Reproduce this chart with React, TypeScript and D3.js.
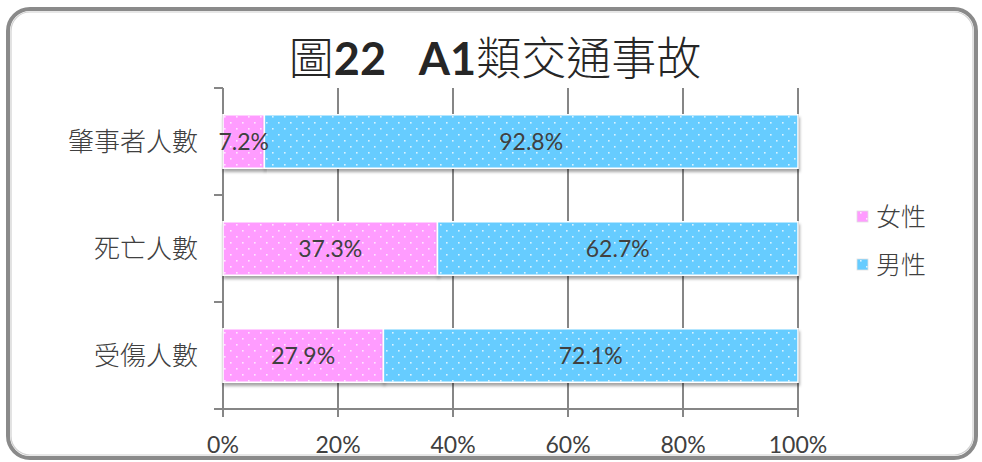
import React from "react";
import * as d3 from "d3";

const categories = ["肇事者人數", "死亡人數", "受傷人數"];
const female = [7.2, 37.3, 27.9];
const male = [92.8, 62.7, 72.1];
const seriesNames = ["女性", "男性"];
const xTicks = [0, 20, 40, 60, 80, 100];
const title1 = "圖";
const title2 = "22\u00a0\u00a0\u00a0A1";
const title3 = "類交通事故";

const W = 982;
const H = 462;
const CJK = "'Noto Sans CJK TC', 'Noto Sans CJK SC', sans-serif";
const LAT = "Lato, 'Open Sans', sans-serif";
const PINK = "#ff9cff";
const BLUE = "#66ccff";
const TXT = "#404040";

export default function App() {
  const x = d3.scaleLinear().domain([0, 100]).range([223, 798]);
  const y = d3.scaleBand().domain(categories).range([88, 409]).paddingInner(0.5).paddingOuter(0.25);
  const bh = y.bandwidth();
  const band = d3.scaleBand().domain(categories).range([88, 409]);

  return (
    <svg width={W} height={H} style={{ position: "absolute", left: 0, top: 0, background: "#fff" }}>
      <defs>
        <pattern id="dotsP" width="12" height="12" patternUnits="userSpaceOnUse">
          <rect width="12" height="12" fill={PINK} />
          <rect x="2" y="2" width="1.6" height="1.6" fill="#fff" opacity="0.75" />
          <rect x="8" y="8" width="1.6" height="1.6" fill="#fff" opacity="0.75" />
        </pattern>
        <pattern id="dotsB" width="12" height="12" patternUnits="userSpaceOnUse">
          <rect width="12" height="12" fill={BLUE} />
          <rect x="2" y="2" width="1.6" height="1.6" fill="#fff" opacity="0.75" />
          <rect x="8" y="8" width="1.6" height="1.6" fill="#fff" opacity="0.75" />
        </pattern>
        <filter id="shadow" x="-5%" y="-20%" width="110%" height="160%">
          <feDropShadow dx="1" dy="3" stdDeviation="1.8" floodColor="#000" floodOpacity="0.35" />
        </filter>
      </defs>

      {/* frame */}
      <rect x={8} y={9} width={968} height={449} rx={22} ry={22} fill="#fff" stroke="#8a8a8a" strokeWidth={4} />
      <rect x={11} y={12} width={962} height={443} rx={19} ry={19} fill="none" stroke="#d0d0d0" strokeWidth={1.2} />

      {/* title */}
      <text x={495} y={75} textAnchor="middle" fontSize={45} fill="#262626">
        <tspan fontFamily={CJK} fontWeight={300}>{title1}</tspan>
        <tspan fontFamily={LAT} fontWeight={700}>{title2}</tspan>
        <tspan fontFamily={CJK} fontWeight={300}>{title3}</tspan>
      </text>

      {/* gridlines */}
      {xTicks.slice(1).map((t) => (
        <line key={t} x1={x(t)} x2={x(t)} y1={88} y2={417} stroke="#868686" strokeWidth={2} />
      ))}
      {/* x axis line */}
      <line x1={214} x2={798} y1={409} y2={409} stroke="#868686" strokeWidth={2} />
      <line x1={x(0)} x2={x(0)} y1={409} y2={417} stroke="#868686" strokeWidth={2} />
      {/* y axis */}
      <line x1={223} x2={223} y1={88} y2={409} stroke="#868686" strokeWidth={2} />
      {categories.map((c) => (
        <line key={c} x1={214} x2={223} y1={band(c)!} y2={band(c)!} stroke="#868686" strokeWidth={2} />
      ))}

      {/* bars */}
      {categories.map((c, i) => {
        const y0 = y(c)!;
        return (
          <g key={c}>
            <rect x={x(0)} y={y0} width={x(female[i]) - x(0)} height={bh} fill="url(#dotsP)" stroke="#fff" strokeWidth={1.5} filter="url(#shadow)" />
            <rect x={x(female[i])} y={y0} width={x(100) - x(female[i])} height={bh} fill="url(#dotsB)" stroke="#fff" strokeWidth={1.5} filter="url(#shadow)" />
          </g>
        );
      })}

      {/* bar labels */}
      {categories.map((c, i) => {
        const cy = y(c)! + bh / 2 + 8;
        return (
          <g key={c} fontFamily={LAT} fontSize={23} fill={TXT} textAnchor="middle">
            <text x={(x(0) + x(female[i])) / 2} y={cy}>{female[i].toFixed(1)}%</text>
            <text x={(x(female[i]) + x(100)) / 2} y={cy}>{male[i].toFixed(1)}%</text>
          </g>
        );
      })}

      {/* category labels */}
      {categories.map((c) => (
        <text key={c} x={198} y={y(c)! + bh / 2 + 9} textAnchor="end" fontFamily={CJK} fontWeight={300} fontSize={26} fill={TXT}>
          {c}
        </text>
      ))}

      {/* x tick labels */}
      {xTicks.map((t) => (
        <text key={t} x={x(t)} y={453} textAnchor="middle" fontFamily={LAT} fontSize={23} fill={TXT}>
          {t}%
        </text>
      ))}

      {/* legend */}
      {seriesNames.map((s, i) => (
        <g key={s}>
          <rect x={857} y={211 + i * 48} width={11} height={11} fill={i === 0 ? "url(#dotsP)" : "url(#dotsB)"} stroke="#e0e0e0" strokeWidth={0.8} />
          <text x={876} y={226 + i * 48} fontFamily={CJK} fontWeight={300} fontSize={25} fill={TXT}>{s}</text>
        </g>
      ))}
    </svg>
  );
}
